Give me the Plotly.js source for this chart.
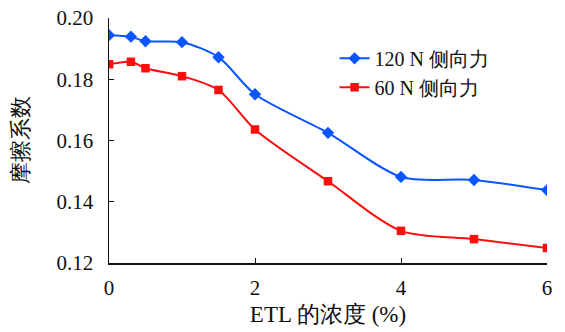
<!DOCTYPE html>
<html><head><meta charset="utf-8">
<script src="https://cdn.plot.ly/plotly-3.0.1.min.js"></script>
<style>body{margin:0;background:#fff}#chart{width:565px;height:332px}</style>
</head><body><div id="chart"></div>
<script>
const concentration = [0, 0.3, 0.5, 1, 1.5, 2, 3, 4, 5, 6];
const friction120 = [0.1944, 0.1939, 0.1924, 0.1921, 0.1872, 0.1751, 0.1625, 0.1481, 0.1471, 0.1438];
const friction60 = [0.1849, 0.1857, 0.1836, 0.1810, 0.1765, 0.1636, 0.1467, 0.1305, 0.1278, 0.1249];
const seriesNames = ['120 N 侧向力', '60 N 侧向力'];
const xTicks = [0, 2, 4, 6];
const yTicks = [0.12, 0.14, 0.16, 0.18, 0.20];
const yTickText = ['0.12', '0.14', '0.16', '0.18', '0.20'];

const FONT = 'Liberation Serif';

const traces = [
  {x: concentration, y: friction120, name: seriesNames[0], mode: 'lines+markers',
   line: {color: '#0a55ff', width: 2, shape: 'spline', smoothing: 0.8},
   marker: {symbol: 'diamond', size: 9.5, color: '#0a55ff'}},
  {x: concentration, y: friction60, name: seriesNames[1], mode: 'lines+markers',
   line: {color: '#ff0d0d', width: 2, shape: 'spline', smoothing: 0.8},
   marker: {symbol: 'square', size: 8.5, color: '#ff0d0d'}}
];

const layout = {
  width: 565, height: 332,
  margin: {l: 109, r: 18, t: 18, b: 69},
  paper_bgcolor: '#fff', plot_bgcolor: '#fff',
  font: {family: FONT, size: 21, color: '#111'},
  showlegend: true,
  legend: {x: 0.515, y: 0.915, xanchor: 'left', yanchor: 'top', bgcolor: 'rgba(0,0,0,0)',
           font: {family: FONT, size: 20, color: '#111'}, tracegroupgap: 0},
  xaxis: {range: [0, 6], tickvals: xTicks, ticktext: xTicks.map(String),
          showgrid: false, zeroline: false, showline: true, linecolor: '#111', linewidth: 1.5,
          ticks: 'inside', ticklen: 5, tickcolor: '#111', ticklabelstandoff: 5,
          tickfont: {family: FONT, size: 21},
          title: {text: 'ETL 的浓度 (%)', font: {family: FONT, size: 23}, standoff: 7}},
  yaxis: {range: [0.12, 0.20], tickvals: yTicks, ticktext: yTickText,
          showgrid: false, zeroline: false, showline: true, linecolor: '#111', linewidth: 1.5,
          ticks: 'inside', ticklen: 5, tickcolor: '#111', ticklabelstandoff: 10,
          tickfont: {family: FONT, size: 21},
          title: {text: '摩擦系数', font: {family: FONT, size: 22}, standoff: 22}}
};

Plotly.newPlot('chart', traces, layout, {displayModeBar: false, staticPlot: true});
</script></body></html>
